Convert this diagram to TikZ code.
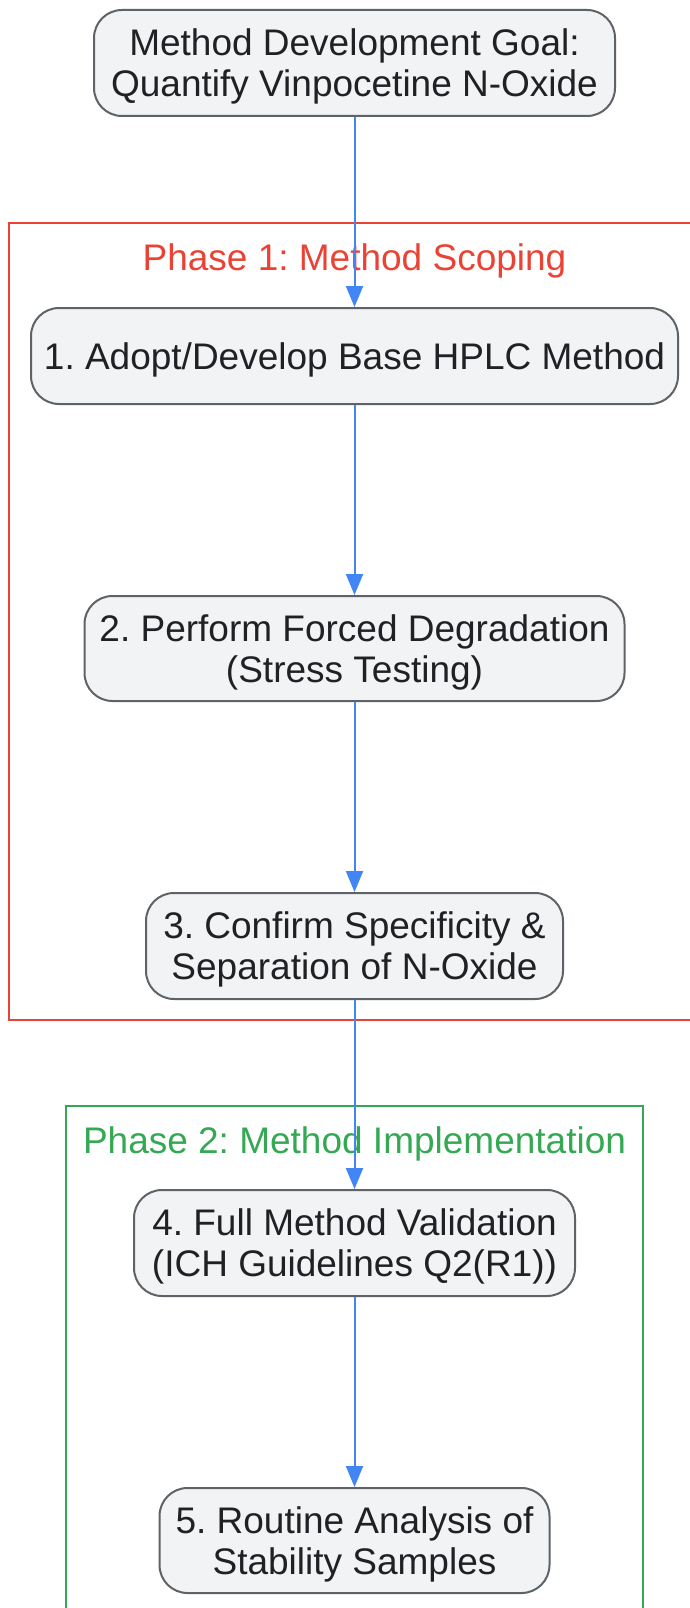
\documentclass[tikz,border=0pt]{standalone}
\usepackage{fontspec}
\setmainfont{Liberation Sans}
\usepackage{xcolor}
\usetikzlibrary{arrows.meta}

\definecolor{stepfill}{HTML}{F1F3F4}
\definecolor{stepline}{HTML}{5F6368}
\definecolor{steptext}{HTML}{202124}
\definecolor{flowblue}{HTML}{4285F4}
\definecolor{phasered}{HTML}{EA4335}
\definecolor{phasegreen}{HTML}{34A853}

\tikzset{
  stepbox/.style={draw=stepline, fill=stepfill, line width=2pt, rounded corners=28pt,
    text=steptext, align=center, inner sep=0pt, text depth=-8pt,
    font=\fontsize{37}{41}\selectfont\frenchspacing},
  flow/.style={draw=flowblue, line width=2pt, -{Triangle[length=21pt,width=17pt]}},
  phase/.style={line width=2pt},
  phaselabel/.style={font=\fontsize{37}{41}\selectfont\frenchspacing}
}

\begin{document}
\begin{tikzpicture}[x=1pt,y=-1pt]
		\useasboundingbox (0,0) rectangle (690,1608);
		% phases
		\draw[phase, draw=phasered] (9,222.5) rectangle (705,1020);
		\node[phaselabel, text=phasered] (P1) at (354.5,261) {Phase 1: Method Scoping};
		\draw[phase, draw=phasegreen] (66,1106) rectangle (643,1625);
		\node[phaselabel, text=phasegreen] (P2) at (354.5,1144) {Phase 2: Method Implementation};
		% steps
		\node[stepbox, minimum width=521pt, minimum height=106pt] (G) at (354.5,63)
			{Method Development Goal:\\Quantify Vinpocetine N-Oxide};
		\node[stepbox, minimum width=647pt, minimum height=96pt] (S1) at (354.5,356)
			{1. Adopt/Develop Base HPLC Method};
		\node[stepbox, minimum width=540pt, minimum height=105pt] (S2) at (354.5,648.5)
			{2. Perform Forced Degradation\\(Stress Testing)};
		\node[stepbox, minimum width=417pt, minimum height=106pt] (S3) at (354.5,946)
			{3. Confirm Specificity \&\\Separation of N-Oxide};
		\node[stepbox, minimum width=441pt, minimum height=106pt] (S4) at (354.5,1243)
			{4. Full Method Validation\\(ICH Guidelines Q2(R1))};
		\node[stepbox, minimum width=390pt, minimum height=105pt] (S5) at (354.5,1540.5)
			{5. Routine Analysis of\\Stability Samples};
		% arrows
		\draw[flow] (G) to (S1);
		\draw[flow] (S1) to (S2);
		\draw[flow] (S2) to (S3);
		\draw[flow] (S3) to (S4);
		\draw[flow] (S4) to (S5);
\end{tikzpicture}
\end{document}
